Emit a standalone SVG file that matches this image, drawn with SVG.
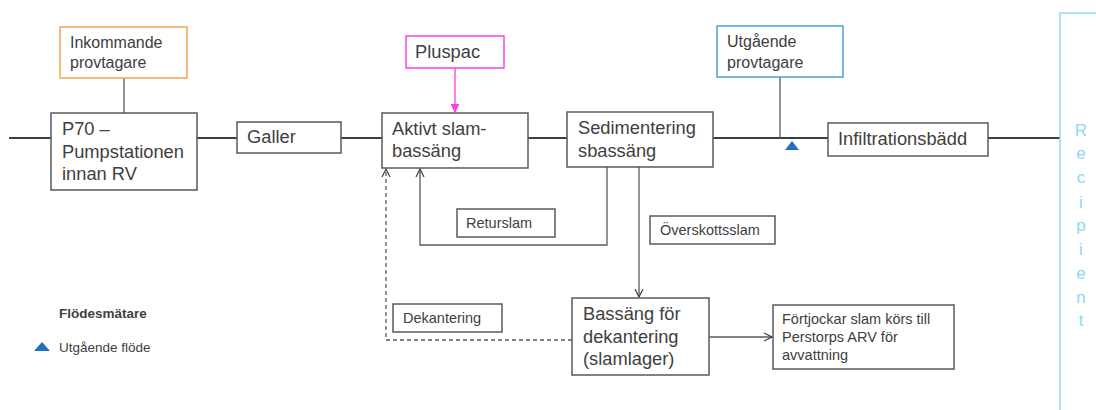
<svg xmlns="http://www.w3.org/2000/svg" width="1096" height="410" viewBox="0 0 1096 410">
<defs>
<style>
.box{fill:#fff;stroke:#595959;stroke-width:1.5}
.t{font-family:"Liberation Sans",Arial,sans-serif;fill:#404040}
.big{font-size:18.3px}
.mid{font-size:16px}
.sm{font-size:14.5px}
.main{stroke:#404040;stroke-width:2;fill:none}
.thin{stroke:#595959;stroke-width:1.3;fill:none}
</style>
<marker id="open" viewBox="0 0 10 10" refX="9" refY="5" markerWidth="10" markerHeight="10" markerUnits="userSpaceOnUse" orient="auto">
<path d="M1,1 L9,5 L1,9" fill="none" stroke="#404040" stroke-width="1.2"/>
</marker>
<marker id="pink" viewBox="0 0 10 10" refX="9" refY="5" markerWidth="9" markerHeight="9" markerUnits="userSpaceOnUse" orient="auto">
<path d="M0,0 L10,5 L0,10 Z" fill="#FF40E0"/>
</marker>
</defs>
<rect width="1096" height="410" fill="#fff"/>

<g id="connectors">
<line class="main" x1="9" y1="138" x2="51" y2="138"/>
<line class="main" x1="197" y1="138" x2="237" y2="138"/>
<line class="main" x1="341" y1="138" x2="382" y2="138"/>
<line class="main" x1="528" y1="138" x2="567" y2="138"/>
<line class="main" x1="713" y1="138" x2="828" y2="138"/>
<line class="main" x1="988" y1="138" x2="1060" y2="138"/>
<line class="thin" x1="124" y1="78" x2="124" y2="113"/>
<line class="thin" x1="780" y1="77" x2="780" y2="138"/>
<line x1="455" y1="68" x2="455" y2="112" stroke="#FF40E0" stroke-width="1.3" marker-end="url(#pink)"/>
<polyline class="thin" points="607,167 607,245 420,245 420,169" marker-end="url(#open)"/>
<line class="thin" x1="639" y1="167" x2="639" y2="297" marker-end="url(#open)"/>
<polyline class="thin" points="572,340 386,340 386,169" stroke-dasharray="4,3" marker-end="url(#open)"/>
<line class="thin" x1="709" y1="337" x2="772" y2="337" marker-end="url(#open)"/>
</g>

<g id="inkommande">
<rect x="60" y="27" width="127" height="51" fill="#fff" stroke="#F5A54F" stroke-width="1.5"/>
<text class="t mid" x="70" y="48">Inkommande</text>
<text class="t mid" x="70" y="68">provtagare</text>
</g>
<g id="p70">
<rect class="box" x="51" y="113" width="146" height="77"/>
<text class="t big" x="62" y="135">P70 –</text>
<text class="t big" x="62" y="158">Pumpstationen</text>
<text class="t big" x="62" y="180">innan RV</text>
</g>
<g id="galler">
<rect class="box" x="237" y="122" width="104" height="31"/>
<text class="t big" x="247" y="143">Galler</text>
</g>
<g id="pluspac">
<rect x="406" y="36" width="98" height="32" fill="#fff" stroke="#FF40E0" stroke-width="1.5"/>
<text class="t big" x="415" y="58">Pluspac</text>
</g>
<g id="aktivt">
<rect class="box" x="382" y="113" width="146" height="55"/>
<text class="t big" x="392" y="135">Aktivt slam-</text>
<text class="t big" x="392" y="157">bassäng</text>
</g>
<g id="sedimentering">
<rect class="box" x="567" y="112" width="146" height="55"/>
<text class="t big" x="578" y="134">Sedimentering</text>
<text class="t big" x="578" y="157">sbassäng</text>
</g>
<g id="utgaende">
<rect x="717" y="26" width="126" height="51" fill="#fff" stroke="#4A9FD8" stroke-width="1.5"/>
<text class="t mid" x="727" y="47">Utgående</text>
<text class="t mid" x="727" y="68">provtagare</text>
</g>
<g id="flodesmatare">
<polygon points="792,141 799,150 785,150" fill="#1F6FBF"/>
</g>
<g id="infiltration">
<rect class="box" x="828" y="123" width="160" height="33"/>
<text class="t big" x="838" y="145">Infiltrationsbädd</text>
</g>
<g id="recipient">
<path d="M1100,13 L1060,13 L1060,415" fill="none" stroke="#8DD8F3" stroke-width="1.5"/>
<g class="t" style="font-size:17px;fill:#8DD8F3" text-anchor="middle">
<text x="1081" y="136">R</text>
<text x="1081" y="159">e</text>
<text x="1081" y="183">c</text>
<text x="1081" y="208">i</text>
<text x="1081" y="231">p</text>
<text x="1081" y="255">i</text>
<text x="1081" y="279">e</text>
<text x="1081" y="303">n</text>
<text x="1081" y="326">t</text>
</g>
</g>
<g id="returslam">
<rect class="box" x="457" y="209" width="98" height="28"/>
<text class="t sm" x="466" y="228">Returslam</text>
</g>
<g id="overskottsslam">
<rect class="box" x="650" y="216" width="125" height="28"/>
<text class="t sm" x="660" y="235">Överskottsslam</text>
</g>
<g id="dekantering">
<rect class="box" x="393" y="304" width="109" height="28"/>
<text class="t sm" x="403" y="323">Dekantering</text>
</g>
<g id="bassang">
<rect class="box" x="572" y="298" width="137" height="77"/>
<text class="t big" x="583" y="320">Bassäng för</text>
<text class="t big" x="583" y="343">dekantering</text>
<text class="t big" x="583" y="365">(slamlager)</text>
</g>
<g id="fortjockar">
<rect class="box" x="773" y="305" width="181" height="64"/>
<text class="t sm" x="782" y="324">Förtjockar slam körs till</text>
<text class="t sm" x="782" y="342">Perstorps ARV för</text>
<text class="t sm" x="782" y="360">avvattning</text>
</g>
<g id="legend">
<text class="t" x="59" y="318" style="font-size:13.5px;font-weight:bold">Flödesmätare</text>
<polygon points="42,342 50,351 34,351" fill="#1F6FBF"/>
<text class="t" x="59" y="352" style="font-size:13.5px">Utgående flöde</text>
</g>
</svg>
